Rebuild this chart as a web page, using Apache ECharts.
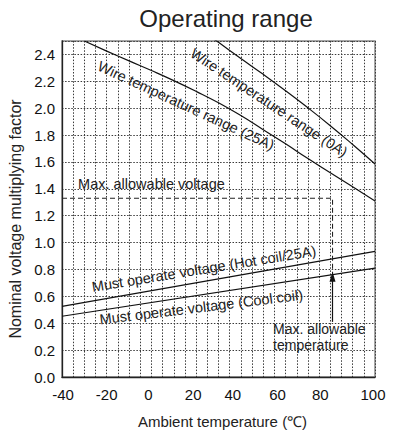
<!DOCTYPE html>
<html><head><meta charset="utf-8">
<script src="https://cdn.jsdelivr.net/npm/echarts@6/dist/echarts.min.js"></script>
<style>html,body{margin:0;padding:0;background:#fff}#c{width:395px;height:430px}</style>
</head><body><div id="c"></div>
<script>
// ---- data ----
const xTickLabels = [-40, -20, 0, 20, 40, 60, 80, 100];
const wire0A_x = [28, 30, 40, 50, 60, 70, 80, 90, 100];
const wire0A_y = [2.513, 2.49, 2.37, 2.252, 2.13, 2.003, 1.87, 1.73, 1.585];
const wire25A_x = [-30, -20, -10, 0, 10, 20, 30, 40, 50, 60, 70, 80, 90, 100];
const wire25A_y = [2.5, 2.425, 2.352, 2.28, 2.205, 2.125, 2.04, 1.945, 1.84, 1.735, 1.625, 1.52, 1.415, 1.31];
const hotCoil_x = [-40, 100];
const hotCoil_y = [0.526, 0.935];
const coolCoil_x = [-40, 100];
const coolCoil_y = [0.452, 0.81];
const maxLimit_x = [-40, 81, 81];
const maxLimit_y = [1.33, 1.33, 0.762];
const arrow_x = [81, 81];
const arrow_y = [0.41, 0.745];

// ---- annotation texts ----
const annotations = [
  {text: 'Wire temperature range (0A)', at: [52.6, 2.041], rot: -33.5, align: 'center', size: 14.5, lh: 17},
  {text: 'Wire temperature range (25A)', at: [15.5, 2.019], rot: -24.8, align: 'center', size: 14.5, lh: 17},
  {text: 'Must operate voltage (Hot coil/25A)', at: [23.5, 0.805], rot: 9.2, align: 'center', size: 14.5, lh: 17},
  {text: 'Must operate voltage (Cool coil)', at: [22.3, 0.52], rot: 7, align: 'center', size: 14.5, lh: 17},
  {text: 'Max. allowable voltage', at: [-32.8, 1.439], rot: 0, align: 'left', size: 14.5, lh: 17},
  {text: 'Max. allowable\ntemperature', at: [54.4, 0.2974], rot: 0, align: 'left', size: 14, lh: 15.7}
];

const FONT = '"Liberation Sans", Arial, Helvetica, sans-serif';
const pair = (xs, ys) => xs.map((x, i) => [x, ys[i]]);
const xLabelShift = {'-40': 1, '-20': 0, '0': -3, '20': -3, '40': -8, '60': -8, '80': -10, '100': -2};
const rich = {};
const richKey = {};
Object.keys(xLabelShift).forEach((k, i) => {
  const s = xLabelShift[k];
  rich['s' + i] = {fontSize: 15, fontFamily: FONT, color: '#111',
    padding: [0, s < 0 ? -2 * s : 0, 0, s > 0 ? 2 * s : 0]};
  richKey[k] = 's' + i;
});

const gridLine = {color: '#3a3a3a', width: 1, type: [1.5, 1.6]};
const curve = {color: '#111', width: 1.2};

const chart = echarts.init(document.getElementById('c'), null, {renderer: 'svg'});
chart.setOption({
  animation: false,
  grid: {left: 62, right: 20, top: 41, bottom: 53, show: true, borderColor: '#888', borderWidth: 1.5,
    containLabel: false, outerBoundsMode: 'none'},
  xAxis: {
    type: 'value', min: -40, max: 100, interval: 20,
    axisLine: {show: true, onZero: false, lineStyle: {color: '#222', width: 1.3}},
    axisTick: {show: false},
    axisLabel: {margin: 10, fontSize: 15, fontFamily: FONT, color: '#111',
      formatter: v => xTickLabels.indexOf(v) >= 0 ? '{' + richKey[String(v)] + '|' + v + '}' : '',
      rich: rich},
    splitLine: {show: true, lineStyle: gridLine},
    minorTick: {show: false, splitNumber: 4},
    minorSplitLine: {show: true, lineStyle: gridLine},
    name: 'Ambient temperature (℃)', nameLocation: 'middle', nameGap: 37,
    nameTextStyle: {fontSize: 15, fontFamily: FONT, color: '#222', padding: [0, 0, 0, 8]}
  },
  yAxis: {
    type: 'value', min: 0, max: 2.5, interval: 0.2,
    axisLine: {show: true, onZero: false, lineStyle: {color: '#222', width: 1.3}},
    axisTick: {show: false},
    axisLabel: {margin: 7, fontSize: 15, fontFamily: FONT, color: '#111',
      showMaxLabel: false, formatter: v => v.toFixed(1)},
    splitLine: {show: true, lineStyle: gridLine},
    name: 'Nominal voltage multiplying factor', nameLocation: 'middle', nameGap: 35,
    nameTextStyle: {fontSize: 16, fontFamily: FONT, color: '#222', padding: [0, 20, 0, 0]}
  },
  series: [
    {type: 'line', data: pair(wire0A_x, wire0A_y), smooth: true, showSymbol: false, lineStyle: curve, clip: true},
    {type: 'line', data: pair(wire25A_x, wire25A_y), smooth: true, showSymbol: false, lineStyle: curve, clip: true},
    {type: 'line', data: pair(hotCoil_x, hotCoil_y), showSymbol: false, lineStyle: curve},
    {type: 'line', data: pair(coolCoil_x, coolCoil_y), showSymbol: false, lineStyle: curve},
    {type: 'line', data: pair(maxLimit_x, maxLimit_y), showSymbol: false,
      lineStyle: {color: '#222', width: 1.1, type: [5, 3]},
      markLine: {silent: true, symbol: ['none', 'triangle'], symbolSize: [6, 10], label: {show: false},
        lineStyle: {color: '#111', width: 1.2, type: 'solid'},
        data: [[{coord: [arrow_x[0], arrow_y[0]]}, {coord: [arrow_x[1], arrow_y[1]]}]]}}
  ]
});

const graphics = [{
  type: 'text', x: 226, y: 18,
  style: {text: 'Operating range', font: '24px ' + FONT, fill: '#222', align: 'center', verticalAlign: 'middle'}
}];
annotations.forEach(a => {
  const p = chart.convertToPixel({gridIndex: 0}, a.at);
  graphics.push({type: 'text', x: p[0], y: p[1], rotation: a.rot * Math.PI / 180,
    style: {text: a.text, font: a.size + 'px ' + FONT, fill: '#222', align: a.align, verticalAlign: 'middle', lineHeight: a.lh}});
});
chart.setOption({graphic: graphics});
</script>
</body></html>
